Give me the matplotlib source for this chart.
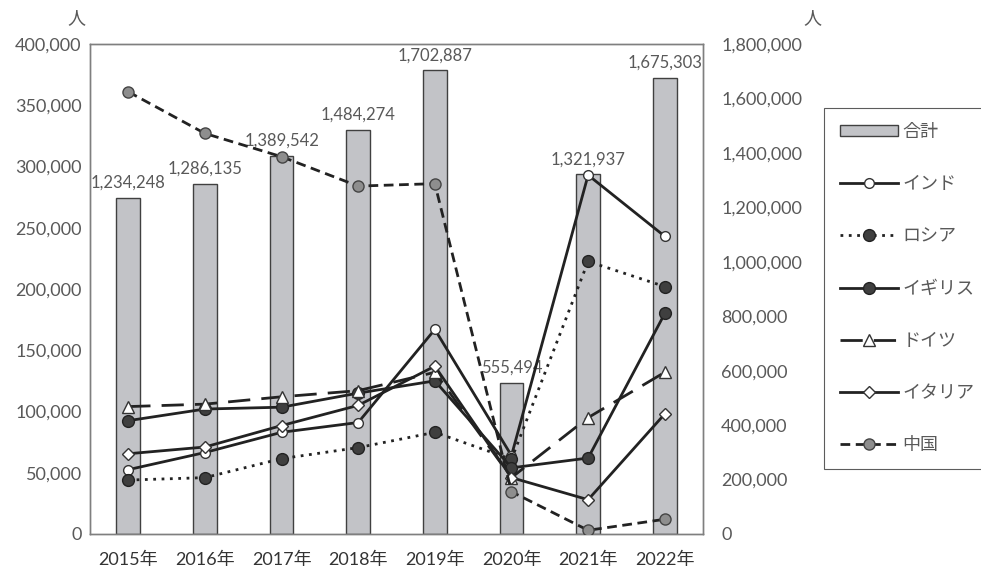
import numpy as np
import matplotlib
matplotlib.use("Agg")
import matplotlib.pyplot as plt
from matplotlib.patches import Patch

plt.rcParams["font.family"] = ["Lato", "Noto Sans CJK JP", "DejaVu Sans"]

# Data

years = ["2015年", "2016年", "2017年", "2018年", "2019年", "2020年", "2021年", "2022年"]
total = [1234248, 1286135, 1389542, 1484274, 1702887, 555494, 1321937, 1675303]

india = [52500, 66500, 83000, 91000, 167000, 64000, 293000, 243000]
russia = [44000, 46000, 61500, 70500, 83000, 61000, 222500, 202000]
uk = [92500, 102000, 103500, 115000, 125000, 54000, 62000, 180000]
germany = [104000, 106000, 112000, 117000, 132000, 46000, 95000, 132000]
italy = [65500, 71000, 88500, 105000, 137000, 46000, 28000, 98000]
china = [361000, 327000, 308000, 284000, 286000, 34500, 3000, 12000]

grey_text = "#595959"
line_col = "#222222"

fig = plt.figure(figsize=(9.81, 5.70), dpi=100)
ax_bar = fig.add_axes([0.0917, 0.0632, 0.625, 0.8596])
ax = ax_bar.twinx()

x = np.arange(len(years))

# Bars (right axis)
ax_bar.bar(x, total, width=0.31, color="#c2c3c7", edgecolor="#404040", linewidth=1, zorder=2)
for xi, v in zip(x, total):
    ax_bar.annotate(f"{v:,}", (xi, v), xytext=(0, 5), textcoords="offset points",
                    ha="center", va="bottom", fontsize=12, color=grey_text)
ax_bar.set_ylim(0, 1800000)
ax_bar.set_yticks(np.arange(0, 1800001, 200000))
ax_bar.yaxis.set_major_formatter(matplotlib.ticker.FuncFormatter(lambda v, p: f"{int(v):,}"))
ax_bar.yaxis.tick_right()
ax_bar.set_xlim(-0.5, len(years) - 0.5)
ax_bar.set_xticks(x)
ax_bar.set_xticklabels(years)

# Lines (left axis)
ax.plot(x, india, color=line_col, lw=2, marker="o", ms=7, mfc="white", mec="#333333", mew=1, label="インド", zorder=3)
ax.plot(x, russia, color=line_col, lw=2, ls=(0, (1, 2)), marker="o", ms=8.5, mfc="#3f3f3f", mec="#222222", mew=1, label="ロシア", zorder=3)
ax.plot(x, uk, color=line_col, lw=2, marker="o", ms=8.5, mfc="#3f3f3f", mec="#222222", mew=1, label="イギリス", zorder=3)
ax.plot(x, germany, color=line_col, lw=2, ls=(0, (8, 4)), marker="^", ms=8, mfc="white", mec="#333333", mew=1, label="ドイツ", zorder=3)
ax.plot(x, italy, color=line_col, lw=2, marker="D", ms=6, mfc="white", mec="#333333", mew=1, label="イタリア", zorder=3)
ax.plot(x, china, color=line_col, lw=2, ls=(0, (3.5, 2)), marker="o", ms=8, mfc="#8e8e8e", mec="#444444", mew=1, label="中国", zorder=3)
ax.set_ylim(0, 400000)
ax.set_yticks(np.arange(0, 400001, 50000))
ax.yaxis.set_major_formatter(matplotlib.ticker.FuncFormatter(lambda v, p: f"{int(v):,}"))
ax.yaxis.tick_left()

for a in (ax, ax_bar):
    a.tick_params(axis="both", length=0, labelsize=13, labelcolor=grey_text, pad=6)
    for s in a.spines.values():
        s.set_color("#7f7f7f")
        s.set_linewidth(1)
ax_bar.tick_params(axis="y", pad=13)
ax_bar.tick_params(axis="x", labelcolor="#333333", labelsize=13, pad=13)

fig.text(0.078, 0.968, "人", fontsize=13, color=grey_text, ha="center", va="center")
fig.text(0.828, 0.968, "人", fontsize=13, color=grey_text, ha="center", va="center")

# Legend
handles = [Patch(facecolor="#c2c3c7", edgecolor="#404040", label="合計")] + ax.get_lines()
labels = ["合計"] + [l.get_label() for l in ax.get_lines()]
leg = fig.legend(handles, labels, loc="upper left", bbox_to_anchor=(0.840, 0.811),
                 frameon=True, fancybox=False, edgecolor="#333333", fontsize=13,
                 handlelength=3.2, handleheight=0.6, labelspacing=2.0, borderpad=0.9,
                 handletextpad=0.25, borderaxespad=0)
for t in leg.get_texts():
    t.set_color(grey_text)
leg.get_frame().set_linewidth(0.8)

fig.savefig("out.png", dpi=100)
